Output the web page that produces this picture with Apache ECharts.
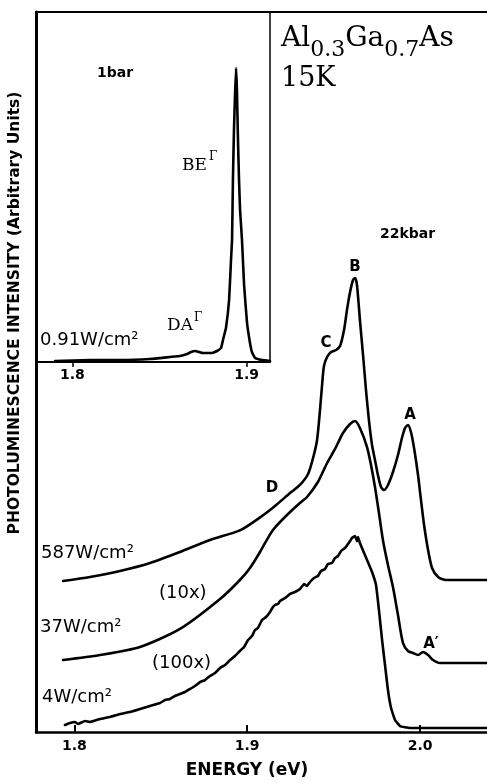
<!DOCTYPE html>
<html>
<head>
<meta charset="utf-8">
<script src="https://cdn.jsdelivr.net/npm/echarts@6/dist/echarts.min.js"></script>
<style>html,body{margin:0;padding:0;background:#fff}#c{width:487px;height:783px}</style>
</head>
<body>
<div id="c"></div>
<script>
// ---- data (energy in eV, intensity in arbitrary units) ----
const mainTicks = [1.8, 1.9, 2.0];
const insetTicks = [1.8, 1.9];

// 22 kbar, 587 W/cm2
const pl587 = [[1.7935,20.97],[1.8091,21.53],[1.8264,22.36],[1.8438,23.47],[1.8611,25.0],[1.8785,26.67],[1.8958,28.0],[1.9074,29.8],[1.9161,31.4],[1.9248,33.19],[1.9305,34.31],[1.9352,35.83],[1.9381,38.06],[1.9404,40.56],[1.9421,44.72],[1.9433,48.19],[1.9444,50.83],[1.9462,52.08],[1.9485,52.78],[1.9514,53.06],[1.9537,53.61],[1.9560,55.83],[1.9577,58.61],[1.9595,61.11],[1.9612,62.78],[1.9624,63.06],[1.9635,62.08],[1.9652,57.22],[1.9670,52.36],[1.9687,47.5],[1.9704,43.33],[1.9722,39.86],[1.9739,37.78],[1.9756,35.69],[1.9774,34.03],[1.9791,33.61],[1.9814,34.31],[1.9843,36.11],[1.9872,38.47],[1.9895,40.83],[1.9913,42.22],[1.9930,42.64],[1.9947,41.67],[1.9965,39.44],[1.9988,35.69],[2.0005,32.22],[2.0023,28.75],[2.0046,25.28],[2.0069,22.78],[2.0104,21.53],[2.0150,21.11],[2.0387,21.11]];

// 37 W/cm2 (x10)
const pl37 = [[1.7935,10.0],[1.8149,10.69],[1.8380,11.81],[1.8611,14.31],[1.8843,18.47],[1.8958,21.11],[1.9016,22.78],[1.9074,25.0],[1.9149,28.06],[1.9248,30.56],[1.9305,31.8],[1.9346,32.64],[1.9409,34.72],[1.9462,37.36],[1.9508,39.31],[1.9554,41.53],[1.9595,42.78],[1.9624,43.19],[1.9652,42.22],[1.9693,39.58],[1.9716,37.08],[1.9739,34.03],[1.9762,30.42],[1.9785,26.67],[1.9814,23.19],[1.9843,20.14],[1.9872,16.25],[1.9901,12.36],[1.9930,11.25],[1.9959,10.97],[1.9988,10.69],[2.0017,11.11],[2.0046,10.69],[2.0075,10.0],[2.0115,9.58],[2.0387,9.58]];

// 4 W/cm2 (x100)
const pl4 = [[1.7946,0.97],[1.7975,1.25],[1.8004,1.39],[1.8021,1.11],[1.8062,1.53],[1.8091,1.39],[1.8149,1.81],[1.8206,2.08],[1.8264,2.5],[1.8322,2.78],[1.8380,3.19],[1.8438,3.61],[1.8496,4.03],[1.8525,4.44],[1.8553,4.58],[1.8582,5.0],[1.8611,5.28],[1.8640,5.56],[1.8669,5.97],[1.8698,6.39],[1.8727,6.94],[1.8756,7.22],[1.8785,7.78],[1.8814,8.19],[1.8843,8.89],[1.8872,9.31],[1.8901,10.0],[1.8929,10.56],[1.8958,11.25],[1.8982,11.81],[1.9005,12.78],[1.9028,13.33],[1.9045,14.17],[1.9062,14.44],[1.9086,15.56],[1.9109,15.97],[1.9132,16.67],[1.9149,17.36],[1.9161,17.64],[1.9178,17.78],[1.9190,18.19],[1.9219,18.61],[1.9248,19.17],[1.9276,19.44],[1.9305,19.86],[1.9329,20.56],[1.9346,20.28],[1.9363,20.83],[1.9386,21.39],[1.9409,21.67],[1.9427,22.36],[1.9450,22.64],[1.9467,23.33],[1.9490,23.47],[1.9508,24.17],[1.9525,24.44],[1.9543,25.14],[1.9566,25.56],[1.9583,26.11],[1.9595,26.53],[1.9606,26.94],[1.9624,27.22],[1.9635,26.5],[1.9641,27.08],[1.9652,26.25],[1.9664,25.56],[1.9693,23.89],[1.9722,22.22],[1.9745,20.42],[1.9762,16.94],[1.9780,12.78],[1.9797,9.31],[1.9814,5.83],[1.9832,3.33],[1.9855,1.67],[1.9884,0.83],[1.9942,0.56],[2.0387,0.56]];

// inset: 1 bar, 0.91 W/cm2
const pl1bar = [[1.7901,0.29],[1.8101,0.57],[1.8274,0.57],[1.8446,0.86],[1.8560,1.43],[1.8618,1.71],[1.8658,2.29],[1.8681,2.86],[1.8704,3.14],[1.8727,2.86],[1.8749,2.57],[1.8772,2.57],[1.8801,2.57],[1.8830,3.14],[1.8853,4.0],[1.8864,6.29],[1.8881,9.71],[1.8899,17.71],[1.8910,29.14],[1.8916,34.86],[1.8921,52.0],[1.8927,66.29],[1.8933,76.29],[1.8939,84.0],[1.8944,77.71],[1.8950,63.43],[1.8956,52.0],[1.8962,43.43],[1.8973,34.86],[1.8985,22.0],[1.9002,11.14],[1.9019,5.43],[1.9030,2.86],[1.9048,1.14],[1.9088,0.57],[1.9134,0.29]];

// ---- chart ----
const SANS = '"DejaVu Sans", sans-serif';
const SERIF = '"DejaVu Serif", serif';
const chart = echarts.init(document.getElementById('c'), null, {renderer: 'canvas'});
const fmt = v => v.toFixed(1);
const lineSeries = (data, xi, yi, sm) => ({
  type: 'line', data, xAxisIndex: xi, yAxisIndex: yi, showSymbol: false,
  smooth: sm,
  lineStyle: {color: '#000', width: 2.6, join: 'round', cap: 'round'}, silent: true, z: 3
});
const txt = (x, y, text, font, align) => ({
  type: 'text', x, y, silent: true,
  style: {text, fill: '#000', font, textAlign: align || 'left', textVerticalAlign: 'middle'}
});

chart.setOption({
  animation: false,
  backgroundColor: '#fff',
  grid: [
    {left: 36, top: 12, right: 0, bottom: 51, show: false},
    {left: 36, top: 12, width: 234, height: 350, show: false}
  ],
  xAxis: [
    {gridIndex: 0, type: 'value', min: 1.77785, max: 2.03869, position: 'bottom',
     axisLine: {show: true, onZero: false, lineStyle: {color: '#000', width: 2.5}},
     axisTick: {show: true, inside: true, length: 7, lineStyle: {color: '#000', width: 2}, customValues: mainTicks},
     axisLabel: {show: true, margin: 7, customValues: mainTicks, formatter: fmt, color: '#000', fontFamily: SANS, fontWeight: 'bold', fontSize: 14},
     splitLine: {show: false}},
    {gridIndex: 0, type: 'value', min: 1.77785, max: 2.03869, position: 'top',
     axisLine: {show: true, onZero: false, lineStyle: {color: '#000', width: 2}},
     axisTick: {show: false}, axisLabel: {show: false}, splitLine: {show: false}},
    {gridIndex: 1, type: 'value', min: 1.77919, max: 1.91336, position: 'bottom',
     axisLine: {show: true, onZero: false, lineStyle: {color: '#000', width: 2}},
     axisTick: {show: true, inside: false, length: 5, lineStyle: {color: '#000', width: 1.5}, customValues: insetTicks},
     axisLabel: {show: true, margin: 6, customValues: insetTicks, formatter: fmt, color: '#000', fontFamily: SANS, fontWeight: 'bold', fontSize: 14},
     splitLine: {show: false}}
  ],
  yAxis: [
    {gridIndex: 0, type: 'value', min: 0, max: 100, position: 'left',
     axisLine: {show: true, onZero: false, lineStyle: {color: '#000', width: 3}},
     axisTick: {show: false}, axisLabel: {show: false}, splitLine: {show: false}},
    {gridIndex: 1, type: 'value', min: 0, max: 100, position: 'right',
     axisLine: {show: true, onZero: false, lineStyle: {color: '#000', width: 1.5}},
     axisTick: {show: false}, axisLabel: {show: false}, splitLine: {show: false}}
  ],
  series: [
    lineSeries(pl587, 0, 0, 0.25),
    lineSeries(pl37, 0, 0, 0.25),
    lineSeries(pl4, 0, 0, 0.1),
    lineSeries(pl1bar, 2, 1, 0.1)
  ],
  graphic: [
    {type: 'text', x: 281, y: 25, silent: true, style: {
      text: '{m|Al}{s|0.3}{m|Ga}{s|0.7}{m|As}', fill: '#000',
      rich: {
        m: {fontFamily: SERIF, fontSize: 28, lineHeight: 31, verticalAlign: 'top', fill: '#000'},
        s: {fontFamily: SERIF, fontSize: 22, lineHeight: 23, padding: [14, 0, 0, 0], verticalAlign: 'top', fill: '#000'}
      }}},
    txt(281, 79, '15K', 'normal 27px ' + SERIF),
    txt(97, 73, '1bar', 'bold 14px ' + SANS),
    txt(182, 166, 'BE', 'normal 17px ' + SERIF),
    txt(209, 157, 'Γ', 'normal 12px ' + SERIF),
    txt(167, 326, 'DA', 'normal 17px ' + SERIF),
    txt(194, 318, 'Γ', 'normal 12px ' + SERIF),
    txt(40, 340, '0.91W/cm²', 'normal 18px ' + SANS),
    txt(380, 234, '22kbar', 'bold 14px ' + SANS),
    txt(355, 267, 'B', 'bold 15px ' + SANS, 'center'),
    txt(326, 343, 'C', 'bold 15px ' + SANS, 'center'),
    txt(410, 415, 'A', 'bold 15px ' + SANS, 'center'),
    txt(272, 488, 'D', 'bold 15px ' + SANS, 'center'),
    txt(431, 644, 'A′', 'bold 15px ' + SANS, 'center'),
    txt(41, 553, '587W/cm²', 'normal 18px ' + SANS),
    txt(159, 593, '(10x)', 'normal 18px ' + SANS),
    txt(40, 627, '37W/cm²', 'normal 18px ' + SANS),
    txt(152, 663, '(100x)', 'normal 18px ' + SANS),
    txt(42, 697, '4W/cm²', 'normal 18px ' + SANS),
    txt(247, 771, 'ENERGY (eV)', 'bold 17px ' + SANS, 'center'),
    {type: 'text', x: 15, y: 313, rotation: Math.PI / 2, silent: true,
     style: {text: 'PHOTOLUMINESCENCE INTENSITY (Arbitrary Units)', fill: '#000', font: 'bold 15.5px ' + SANS, textAlign: 'center', textVerticalAlign: 'middle'}}
  ]
});
</script>
</body>
</html>
